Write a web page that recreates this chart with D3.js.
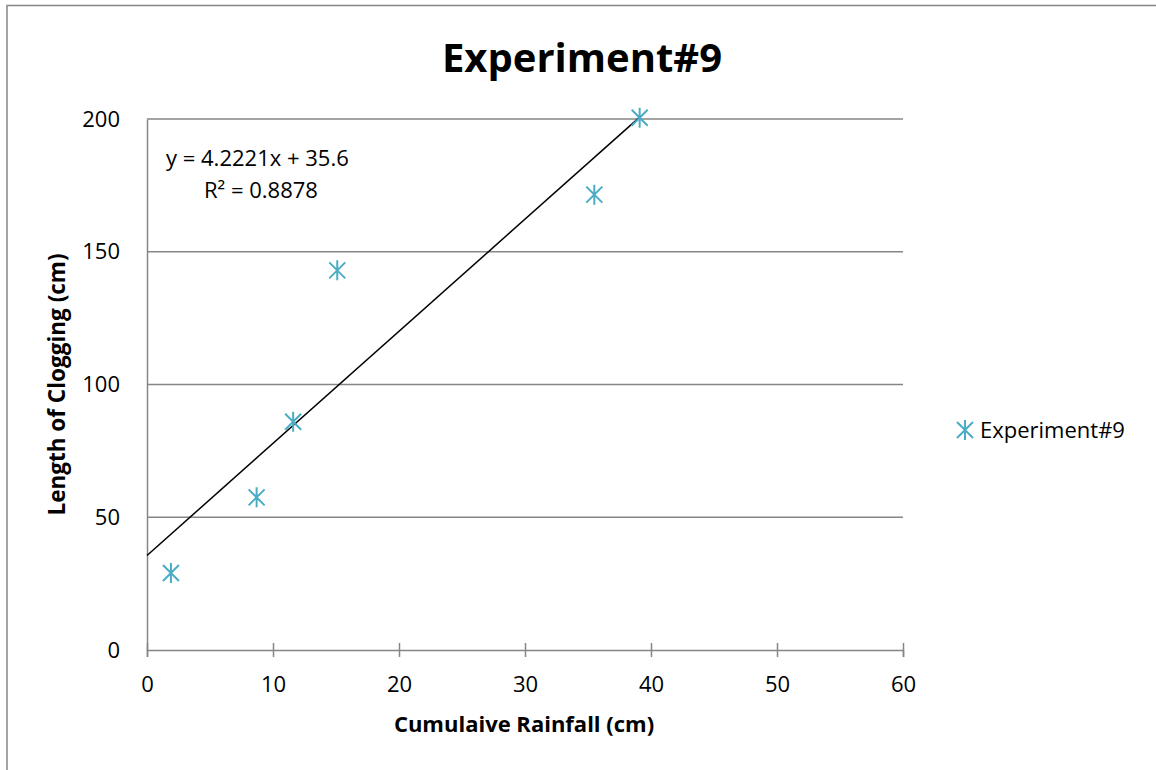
<!DOCTYPE html>
<html><head><meta charset="utf-8">
<script src="https://cdn.jsdelivr.net/npm/d3@7"></script>
<style>body{margin:0;background:#fff}svg{display:block}text{font-family:"Open Sans","Noto Sans",sans-serif}</style>
</head><body>
<svg id="c" width="1156" height="770"></svg>
<script>
const seriesName = "Experiment#9";
const xValues = [1.9, 8.7, 11.6, 15.1, 35.5, 39.1];
const yValues = [29, 57.5, 86, 143, 171.5, 200.5];
const xTicks = [0, 10, 20, 30, 40, 50, 60];
const yTicks = [0, 50, 100, 150, 200];
const slope = 4.2221, intercept = 35.6;
const eqLines = ["y = 4.2221x + 35.6", "R² = 0.8878"];

const svg = d3.select("#c");
const W = 1156, H = 770;
const m = {l:147, r:903, t:119, b:650};
const x = d3.scaleLinear().domain([0,60]).range([m.l, m.r]);
const y = d3.scaleLinear().domain([0,200]).range([m.b, m.t]);
const grey = "#868686", aqua = "#4bacc6";

// outer border
svg.append("path").attr("d", `M7,${H} V5.5 H${W}`).attr("fill","none").attr("stroke",grey).attr("stroke-width",1.5);

// title
svg.append("text").attr("x",582).attr("y",72).attr("text-anchor","middle")
  .attr("font-size",40).attr("font-weight","bold").attr("fill","#000").text("Experiment#9");

// gridlines
svg.append("g").selectAll("line").data(yTicks.filter(d=>d>0)).join("line")
  .attr("x1",m.l).attr("x2",m.r).attr("y1",d=>y(d)).attr("y2",d=>y(d))
  .attr("stroke",grey).attr("stroke-width",1.5);

// y axis
const ya = svg.append("g").attr("transform",`translate(${m.l},0)`)
  .call(d3.axisLeft(y).tickValues(yTicks).tickSize(0).tickPadding(27).tickFormat(d3.format("d")));
ya.select(".domain").attr("stroke",grey).attr("stroke-width",1.5);
ya.selectAll("text").attr("font-size",22).attr("fill","#000").attr("font-family",'"Open Sans",sans-serif');

// x axis
const xa = svg.append("g").attr("transform",`translate(0,${m.b})`)
  .call(d3.axisBottom(x).tickValues(xTicks).tickSize(7).tickPadding(19).tickFormat(d3.format("d")));
xa.select(".domain").attr("stroke",grey).attr("stroke-width",1.5);
xa.selectAll(".tick line").attr("stroke",grey).attr("stroke-width",1.5).attr("y1",-7);
xa.selectAll("text").attr("font-size",22).attr("fill","#000").attr("font-family",'"Open Sans",sans-serif');

// axis titles
svg.append("text").attr("x",524).attr("y",732).attr("text-anchor","middle")
  .attr("font-size",22).attr("font-weight","bold").text("Cumulaive Rainfall (cm)");
svg.append("text").attr("transform",`translate(65,${(m.t+m.b)/2}) rotate(-90)`).attr("text-anchor","middle")
  .attr("font-size",22.5).attr("font-weight","bold").text("Length of Clogging (cm)");

// trendline
const xEnd = d3.max(xValues);
svg.append("line").attr("x1",x(0)).attr("y1",y(intercept)).attr("x2",x(xEnd)).attr("y2",y(slope*xEnd+intercept))
  .attr("stroke","#000").attr("stroke-width",1.5);

// markers
function star(g, cx, cy){
  const s = 8, v = 10;
  g.append("path").attr("d",`M${cx-s},${cy-s}L${cx+s},${cy+s}M${cx-s},${cy+s}L${cx+s},${cy-s}M${cx},${cy-v}L${cx},${cy+v}`)
   .attr("stroke",aqua).attr("stroke-width",2).attr("fill","none");
}
const mg = svg.append("g");
xValues.forEach((xv,i)=>star(mg, x(xv), y(yValues[i])));

// equation
svg.append("text").attr("x",166).attr("y",166).attr("font-size",22).text(eqLines[0]);
svg.append("text").attr("x",204).attr("y",198).attr("font-size",22).text(eqLines[1]);

// legend
star(svg, 965, 430);
svg.append("text").attr("x",980).attr("y",438).attr("font-size",22).text(seriesName);
</script>
</body></html>
